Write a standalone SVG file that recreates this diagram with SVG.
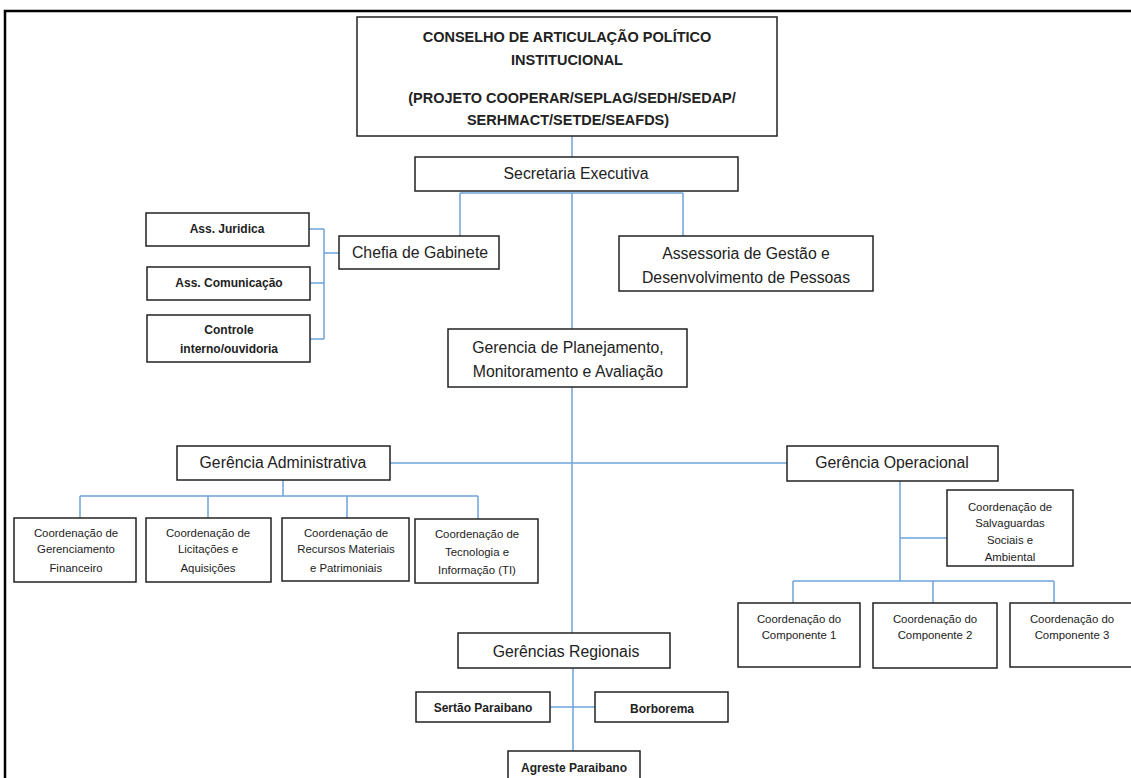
<svg xmlns="http://www.w3.org/2000/svg" width="1131" height="778" viewBox="0 0 1131 778">
<style>
.b{fill:#fff;stroke:#222;stroke-width:1.5}
.c{fill:none;stroke:#6fa3da;stroke-width:1.5}
text{font-family:"Liberation Sans",Arial,sans-serif;fill:#222;text-anchor:middle}
.t1{font-size:14.5px;font-weight:bold}
.t2{font-size:15.8px}
.t3{font-size:12px;font-weight:bold}
.t4{font-size:11.4px}
</style>
<rect x="0" y="0" width="1131" height="778" fill="#fff"/>
<path d="M5 778 V11 H1131" fill="none" stroke="#000" stroke-width="2.5"/>
<g id="connectors">
<path class="c" d="M572 136 V157"/>
<path class="c" d="M460 193 H683 M460 193 V236 M683 193 V236 M572 193 V329"/>
<path class="c" d="M339 253 H324 M324 229 V339 M309 229 H324 M310 283 H324 M310 339 H324"/>
<path class="c" d="M572 387 V633"/>
<path class="c" d="M390 463 H787"/>
<path class="c" d="M283 480 V496 M80 496 H478 M80 496 V518 M208 496 V518 M347 496 V518 M478 496 V519"/>
<path class="c" d="M900 481 V581 M900 538 H947 M793 581 H1054 M793 581 V603 M933 581 V603 M1054 581 V603"/>
<path class="c" d="M573 668 V751 M550 707 H595"/>
</g>
<g id="conselho"><rect class="b" x="357" y="17" width="420" height="119"/>
<text class="t1" x="567" y="42">CONSELHO DE ARTICULAÇÃO POLÍTICO</text>
<text class="t1" x="567" y="65">INSTITUCIONAL</text>
<text class="t1" x="572" y="103">(PROJETO COOPERAR/SEPLAG/SEDH/SEDAP/</text>
<text class="t1" x="568" y="125">SERHMACT/SETDE/SEAFDS)</text></g>
<g id="secretaria"><rect class="b" x="415" y="157" width="323" height="34"/>
<text class="t2" x="576" y="179">Secretaria Executiva</text></g>
<g id="chefia"><rect class="b" x="339" y="236" width="160" height="33"/>
<text class="t2" x="420" y="258">Chefia de Gabinete</text></g>
<g id="juridica"><rect class="b" x="146" y="213" width="163" height="33"/>
<text class="t3" x="227" y="233">Ass. Juridica</text></g>
<g id="comunicacao"><rect class="b" x="147" y="267" width="163" height="33"/>
<text class="t3" x="229" y="287">Ass. Comunicação</text></g>
<g id="controle"><rect class="b" x="147" y="315" width="163" height="47"/>
<text class="t3" x="229" y="334">Controle</text>
<text class="t3" x="229" y="353">interno/ouvidoria</text></g>
<g id="assessoria"><rect class="b" x="619" y="236" width="254" height="55"/>
<text class="t2" x="746" y="259">Assessoria de Gestão e</text>
<text class="t2" x="746" y="283">Desenvolvimento de Pessoas</text></g>
<g id="planejamento"><rect class="b" x="448" y="329" width="239" height="58"/>
<text class="t2" x="568" y="353">Gerencia de Planejamento,</text>
<text class="t2" x="568" y="377">Monitoramento e Avaliação</text></g>
<g id="administrativa"><rect class="b" x="177" y="446" width="213" height="34"/>
<text class="t2" x="283" y="468">Gerência Administrativa</text></g>
<g id="financeiro"><rect class="b" x="14" y="518" width="122" height="64"/>
<text class="t4" x="76" y="537">Coordenação de</text>
<text class="t4" x="76" y="553">Gerenciamento</text>
<text class="t4" x="76" y="572">Financeiro</text></g>
<g id="licitacoes"><rect class="b" x="146" y="518" width="125" height="64"/>
<text class="t4" x="208" y="537">Coordenação de</text>
<text class="t4" x="208" y="553">Licitações e</text>
<text class="t4" x="208" y="572">Aquisições</text></g>
<g id="recursos"><rect class="b" x="282" y="518" width="127" height="63"/>
<text class="t4" x="346" y="537">Coordenação de</text>
<text class="t4" x="346" y="553">Recursos Materiais</text>
<text class="t4" x="346" y="572">e Patrimoniais</text></g>
<g id="tecnologia"><rect class="b" x="415" y="519" width="123" height="64"/>
<text class="t4" x="477" y="538">Coordenação de</text>
<text class="t4" x="477" y="556">Tecnologia e</text>
<text class="t4" x="477" y="574">Informação (TI)</text></g>
<g id="operacional"><rect class="b" x="787" y="446" width="211" height="35"/>
<text class="t2" x="892" y="468">Gerência Operacional</text></g>
<g id="salvaguardas"><rect class="b" x="947" y="490" width="126" height="76"/>
<text class="t4" x="1010" y="511">Coordenação de</text>
<text class="t4" x="1010" y="527">Salvaguardas</text>
<text class="t4" x="1010" y="544">Sociais e</text>
<text class="t4" x="1010" y="561">Ambiental</text></g>
<g id="comp1"><rect class="b" x="738" y="603" width="122" height="64"/>
<text class="t4" x="799" y="623">Coordenação do</text>
<text class="t4" x="799" y="639">Componente 1</text></g>
<g id="comp2"><rect class="b" x="873" y="603" width="124" height="65"/>
<text class="t4" x="935" y="623">Coordenação do</text>
<text class="t4" x="935" y="639">Componente 2</text></g>
<g id="comp3"><rect class="b" x="1010" y="603" width="125" height="64"/>
<text class="t4" x="1072" y="623">Coordenação do</text>
<text class="t4" x="1072" y="639">Componente 3</text></g>
<g id="regionais"><rect class="b" x="458" y="633" width="212" height="35"/>
<text class="t2" x="566" y="657">Gerências Regionais</text></g>
<g id="sertao"><rect class="b" x="416" y="692" width="134" height="30"/>
<text class="t3" x="483" y="712">Sertão Paraibano</text></g>
<g id="borborema"><rect class="b" x="595" y="692" width="133" height="30"/>
<text class="t3" x="662" y="713">Borborema</text></g>
<g id="agreste"><rect class="b" x="508" y="751" width="132" height="35"/>
<text class="t3" x="574" y="772">Agreste Paraibano</text></g>
</svg>
